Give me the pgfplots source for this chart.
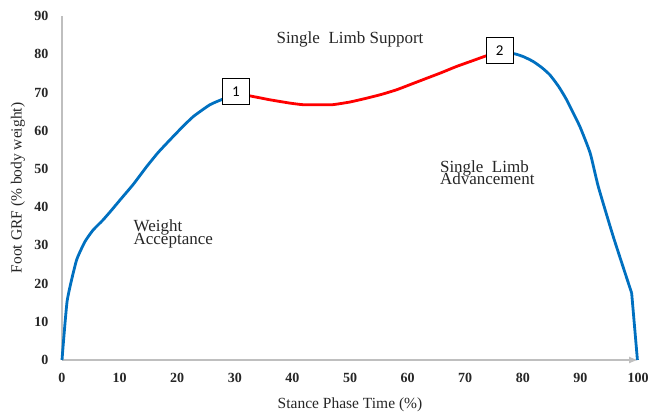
\documentclass[border=0pt]{standalone}
\usepackage{pgfplots}
\pgfplotsset{compat=1.18}
\usepackage{fontspec}
\setmainfont{Liberation Serif}
\newfontfamily\boxfont{Carlito}
\usetikzlibrary{arrows.meta}
\definecolor{gblue}{HTML}{0070C0}
\definecolor{gred}{HTML}{FF0000}
\definecolor{axgray}{HTML}{BFBFBF}
\definecolor{txt}{HTML}{262626}
\begin{document}
\begin{tikzpicture}
\begin{axis}[name=ax, scale only axis, width=576pt, height=344pt,
  xmin=0, xmax=100, ymin=0, ymax=90,
  xtick={0,10,...,100}, ytick={0,10,...,90},
  axis x line=bottom, axis y line=left,
  x axis line style={axgray, line width=1.2pt, -{Latex[length=9pt,width=7pt]}},
  y axis line style={axgray, line width=1.2pt, -},
  major tick length=0pt,
  /pgf/number format/assume math mode=true,
  ticklabel style={font=\fontsize{14}{16}\selectfont\bfseries, text=txt},
  xticklabel style={yshift=-10pt},
  yticklabel style={xshift=-10pt},
  xlabel={Stance Phase Time (\%)},
  ylabel={Foot GRF (\% body weight)},
  label style={font=\fontsize{15.5}{18}\selectfont, text=txt},
  xlabel style={at={(axis description cs:0.5,-0.1308)}, anchor=center},
  ylabel style={at={(axis description cs:-0.0764,0.5)}, anchor=center, rotate=0},
  clip=false,
]
\addplot[gblue, line width=2.8pt, line join=round, smooth, tension=0.3] coordinates {
(0,0) (0.9,15.5) (2.5,26) (4,31) (5.4,34) (7.1,36.6) (8.6,39.2) (10.1,41.9)
(12.4,46) (14.7,50.6) (16.7,54.3) (18.75,57.6) (20.8,60.8) (22.8,63.7)
(25.7,66.8) (28,68.3) (30.2,69.6)
};
\addplot[gred, line width=2.8pt, line join=round, smooth, tension=0.3] coordinates {
(30.2,69.6) (32.6,69.1) (36,68.1) (39.6,67.2) (41.8,66.8) (44.4,66.8) (47,66.8)
(50,67.5) (52.9,68.5) (55.5,69.5) (58.1,70.7) (60.7,72.2) (63.3,73.7) (65.9,75.2)
(68.5,76.8) (71.1,78.2) (73.7,79.6) (76,80.5)
};
\addplot[gblue, line width=2.8pt, line join=round, smooth, tension=0.3] coordinates {
(76,80.5) (78.6,80.1) (80.2,79.3) (81.8,78.1) (83.3,76.5) (84.7,74.6) (86.2,71.6)
(87.6,68.1) (89.9,61.1) (91.7,54.1) (93.1,45.4) (95.7,32.3) (98.9,17.5)
};
\addplot[gblue, line width=2.8pt, line join=round] coordinates {(98.9,17.5) (99.9,0)};
\node[draw=black, line width=1.3pt, fill=white, minimum width=27pt, minimum height=26pt, inner sep=0pt, font=\boxfont\fontsize{15}{18}\selectfont] at (axis cs:30.2,70.3) {1};
\node[draw=black, line width=1.3pt, fill=white, minimum width=27pt, minimum height=26pt, inner sep=0pt, font=\boxfont\fontsize{15}{18}\selectfont] at (axis cs:76,80.9) {2};
\node[anchor=base, inner sep=0pt, text=txt, font=\fontsize{17}{13}\selectfont] at (axis cs:50,82.7) {Single\ \ Limb Support};
\node[anchor=base west, inner sep=0pt, text=txt, font=\fontsize{17}{13}\selectfont] at (axis cs:12.4,33.6) {Weight};
\node[anchor=base west, inner sep=0pt, text=txt, font=\fontsize{17}{13}\selectfont] at (axis cs:12.4,30.1) {Acceptance};
\node[anchor=base west, inner sep=0pt, text=txt, font=\fontsize{17}{13}\selectfont] at (axis cs:65.6,49.1) {Single\ \ Limb};
\node[anchor=base west, inner sep=0pt, text=txt, font=\fontsize{17}{13}\selectfont] at (axis cs:65.6,45.8) {Advancement};
\end{axis}
\pgfresetboundingbox
\path ([xshift=-62pt,yshift=-56pt]ax.south west) rectangle ([xshift=13pt,yshift=16pt]ax.north east);
\end{tikzpicture}
\end{document}
